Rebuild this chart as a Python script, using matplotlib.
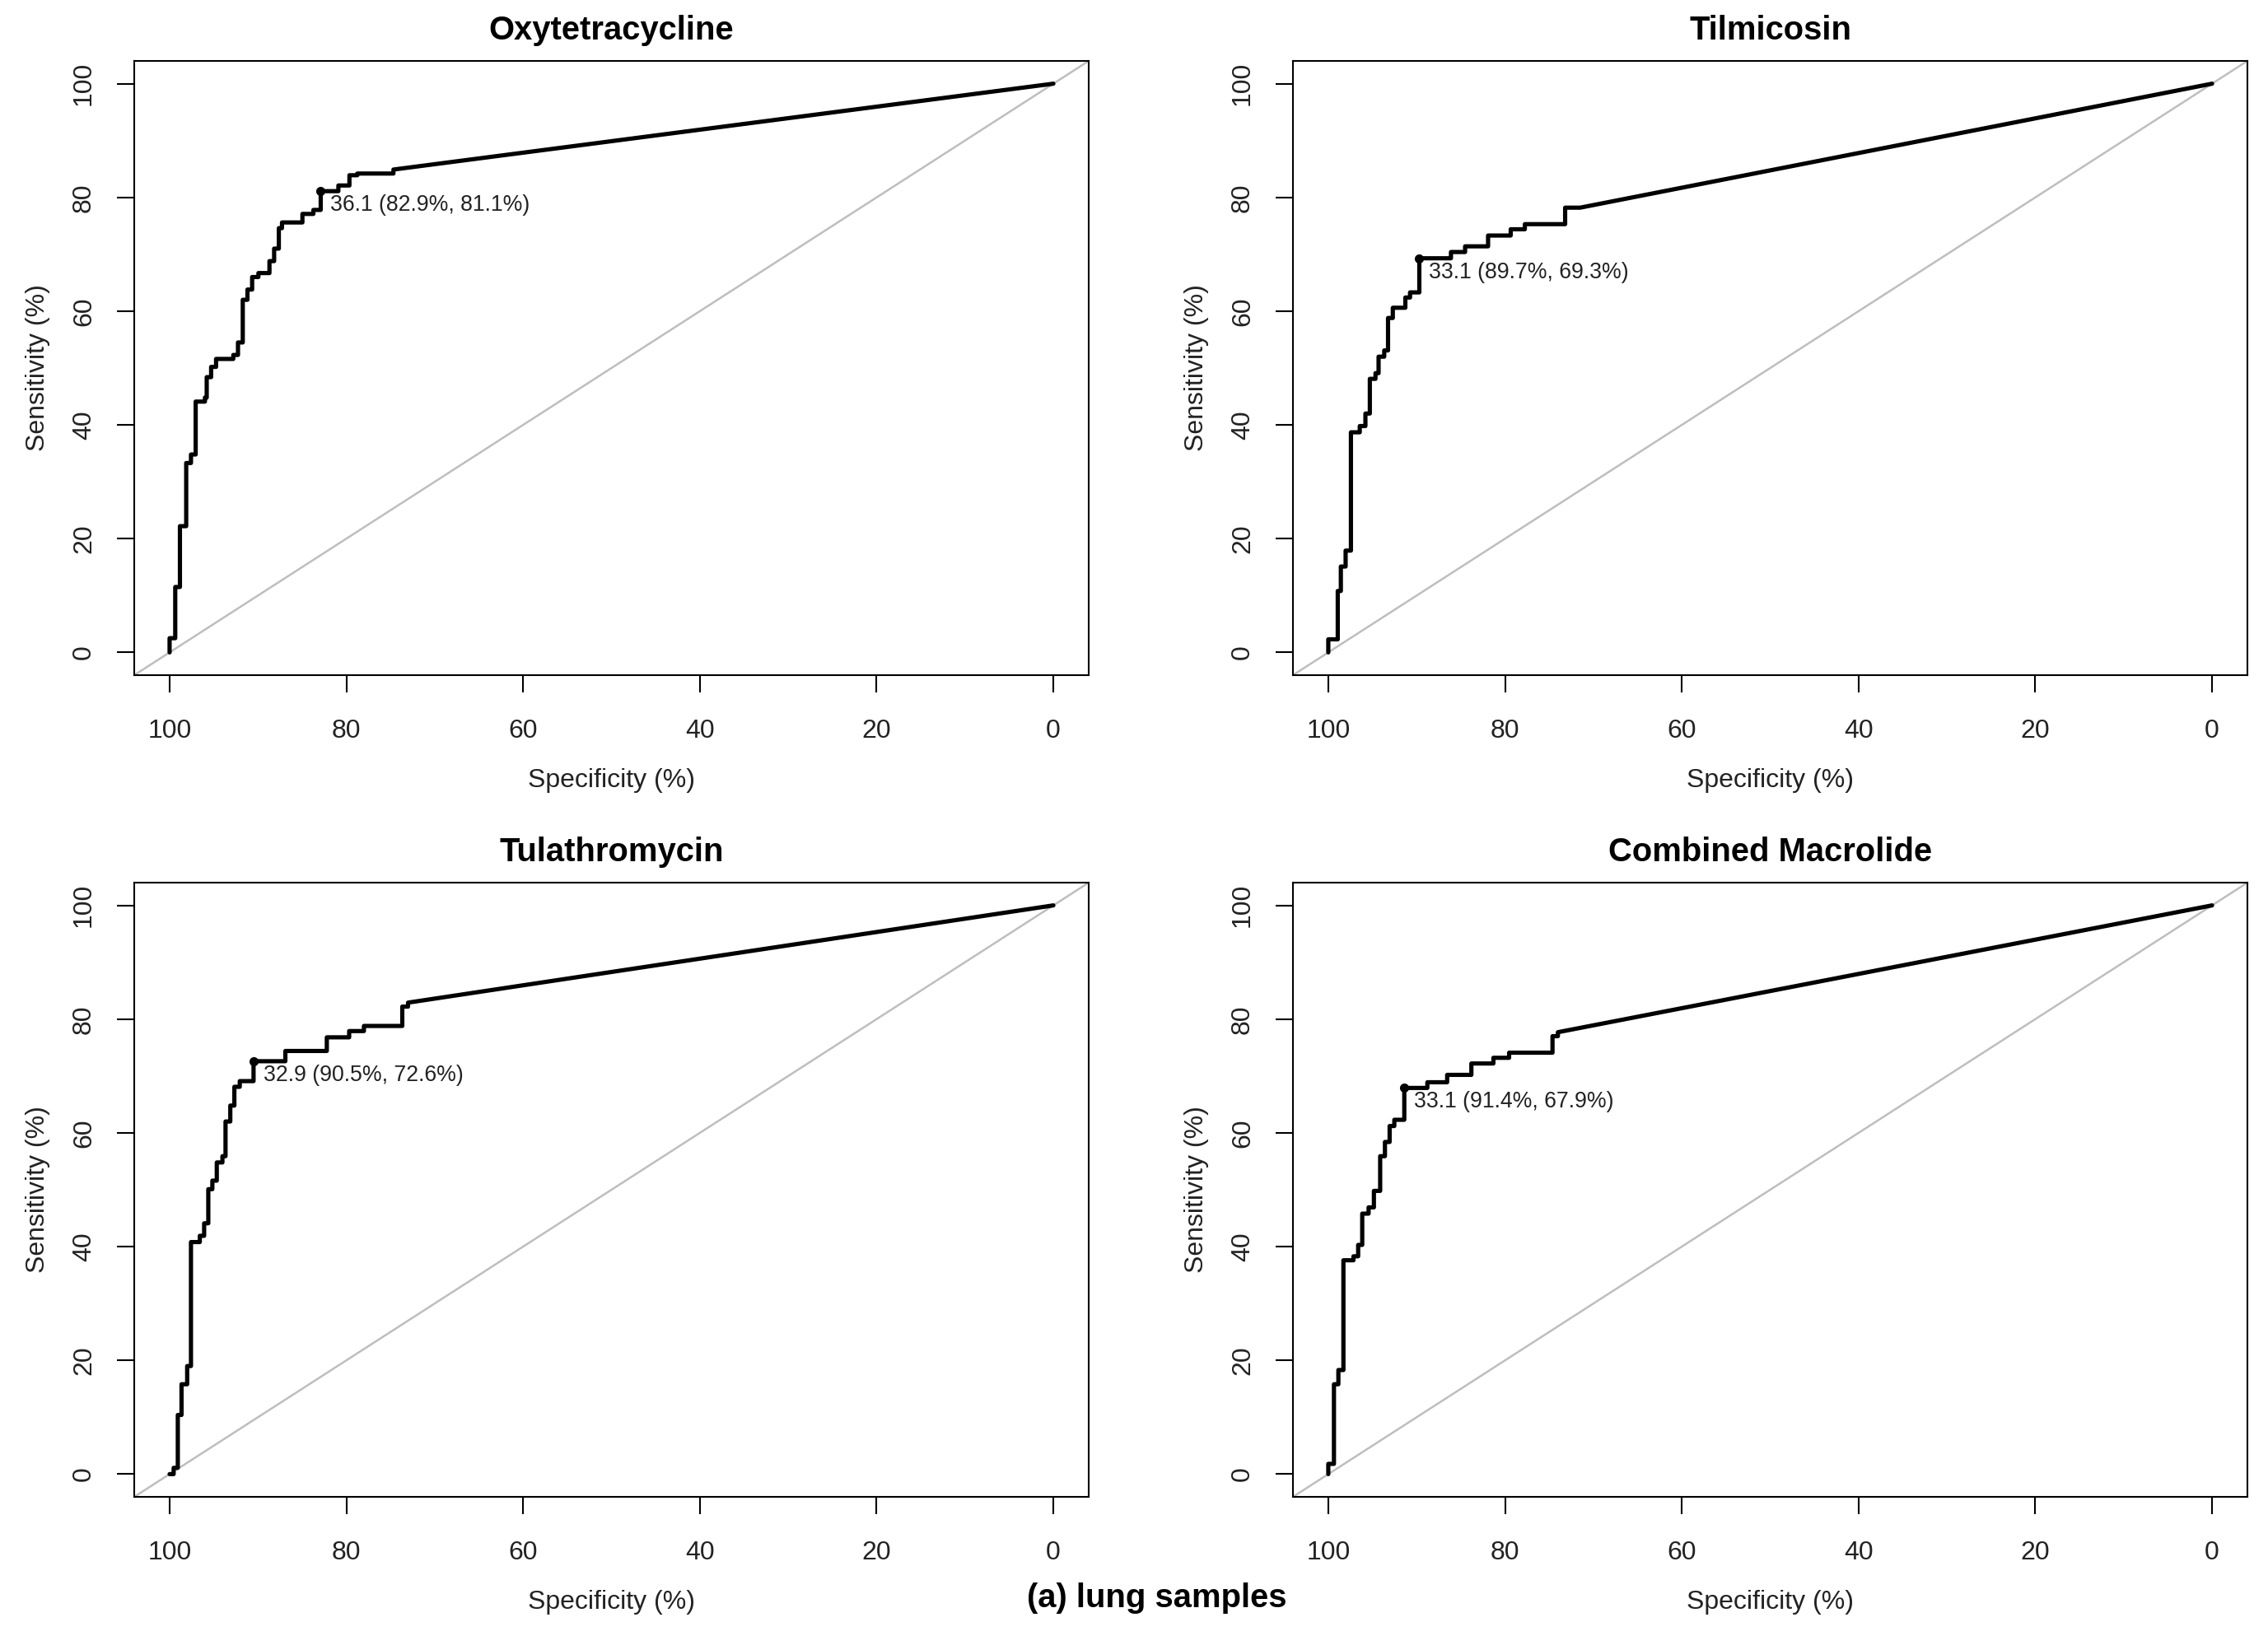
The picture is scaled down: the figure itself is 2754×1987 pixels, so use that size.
import matplotlib
matplotlib.use("Agg")
import matplotlib.pyplot as plt

plt.rcParams['font.family'] = ['Liberation Sans', 'DejaVu Sans']

titles = ["Oxytetracycline", "Tilmicosin", "Tulathromycin", "Combined Macrolide"]

# ROC vertices: (specificity, sensitivity) at top of each rise; curve starts at (100, 0) and ends at (0, 100)
spec_oxy = [100.0, 99.36, 98.83, 98.12, 97.58, 97.05, 96.0, 95.8, 95.3, 94.74, 92.79, 92.26, 91.72,
            91.19, 90.66, 89.95, 88.70, 88.17, 87.64, 87.28, 84.97, 83.73, 82.9, 80.9, 79.65, 78.76, 74.67]
sens_oxy = [2.5, 11.5, 22.2, 33.3, 34.8, 44.1, 44.8, 48.4, 50.2, 51.6, 52.3, 54.5, 62.0,
            63.8, 66.0, 66.7, 68.8, 71.0, 74.6, 75.6, 77.1, 77.8, 81.1, 82.1, 83.9, 84.2, 84.9]

spec_til = [100.0, 98.93, 98.58, 98.04, 97.44, 96.44, 95.80, 95.30, 94.66, 94.31, 93.67, 93.24, 92.70,
            91.28, 90.75, 89.7, 86.12, 84.52, 81.92, 79.36, 77.76, 73.20, 71.5]
sens_til = [2.3, 10.8, 15.1, 17.9, 38.7, 39.8, 42.0, 48.1, 49.1, 52.0, 53.1, 58.8, 60.6,
            62.4, 63.3, 69.3, 70.4, 71.4, 73.3, 74.4, 75.3, 78.2, 78.2]

spec_tul = [99.54, 99.07, 98.65, 98.01, 97.58, 96.58, 96.09, 95.62, 95.16, 94.66, 94.02, 93.67, 93.13,
            92.67, 92.06, 90.5, 86.90, 82.21, 79.68, 78.01, 73.67, 73.02]
sens_tul = [1.1, 10.4, 15.8, 19.0, 40.8, 41.9, 44.1, 50.1, 51.6, 54.8, 55.9, 62.0, 64.8,
            68.1, 69.1, 72.6, 74.4, 76.8, 77.9, 78.8, 82.2, 82.9]

spec_mac = [100.0, 99.36, 98.86, 98.29, 97.15, 96.62, 96.16, 95.44, 94.84, 94.13, 93.59, 93.06, 92.53,
            91.4, 88.79, 86.55, 83.81, 81.32, 79.54, 74.63, 74.02]
sens_mac = [1.8, 15.8, 18.3, 37.6, 38.3, 40.3, 45.8, 46.9, 49.8, 55.9, 58.4, 61.2, 62.3,
            67.9, 68.9, 70.2, 72.2, 73.2, 74.1, 77.0, 77.7]

thresholds = [36.1, 33.1, 32.9, 33.1]
thr_spec = [82.9, 89.7, 90.5, 91.4]
thr_sens = [81.1, 69.3, 72.6, 67.9]

specs = [spec_oxy, spec_til, spec_tul, spec_mac]
senss = [sens_oxy, sens_til, sens_tul, sens_mac]

x_ticks = [100, 80, 60, 40, 20, 0]
y_ticks = [0, 20, 40, 60, 80, 100]

W, H = 2754, 1987
DPI = 200
fig = plt.figure(figsize=(W / DPI, H / DPI), dpi=DPI)

boxes_px = [(163, 74, 1322, 820), (1570, 74, 2729, 820),
            (163, 1072, 1322, 1818), (1570, 1072, 2729, 1818)]

for i in range(4):
    l, t, r, b = boxes_px[i]
    ax = fig.add_axes([l / W, 1 - b / H, (r - l) / W, (b - t) / H])
    px, py = [100.0], [0.0]
    for s, v in zip(specs[i], senss[i]):
        px += [s, s]
        py += [py[-1], v]
    px.append(0.0)
    py.append(100.0)
    ax.axline((100, 0), (0, 100), color="#BEBEBE", lw=0.9, zorder=1)
    ax.plot(px, py, color="black", lw=1.85, solid_joinstyle="round", solid_capstyle="round", zorder=3)
    ax.plot([thr_spec[i]], [thr_sens[i]], "o", color="black", ms=3, zorder=4)
    ax.annotate(f"{thresholds[i]} ({thr_spec[i]}%, {thr_sens[i]}%)", (thr_spec[i], thr_sens[i]),
                xytext=(4.3, -6.1), textcoords="offset points", ha="left", va="center",
                fontsize=9.6, color="#222222")
    ax.set_xlim(104, -4)
    ax.set_ylim(-4, 104)
    ax.set_xticks(x_ticks)
    ax.set_yticks(y_ticks)
    ax.set_xticklabels([str(v) for v in x_ticks])
    ax.set_yticklabels([str(v) for v in y_ticks], rotation=90, va="center")
    ax.tick_params(length=7.6, width=0.75, labelsize=11.5, color="black", labelcolor="#222222")
    ax.tick_params(axis="x", pad=11.5)
    ax.tick_params(axis="y", pad=9)
    for sp in ax.spines.values():
        sp.set_linewidth(0.75)
    ax.set_xlabel("Specificity (%)", fontsize=11.5, va="center", color="#222222")
    ax.xaxis.set_label_coords(0.5, -0.171)
    ax.set_ylabel("Sensitivity (%)", fontsize=11.5, va="center", color="#222222")
    ax.yaxis.set_label_coords(-0.101, 0.5)
    ax.set_title(titles[i], fontsize=14.4, fontweight="bold", pad=9.2)

fig.text(1405 / W, (H - 1952) / H, "(a) lung samples", ha="center", va="baseline",
         fontsize=14.4, fontweight="bold")

fig.savefig("out.png", dpi=DPI, facecolor="white")
